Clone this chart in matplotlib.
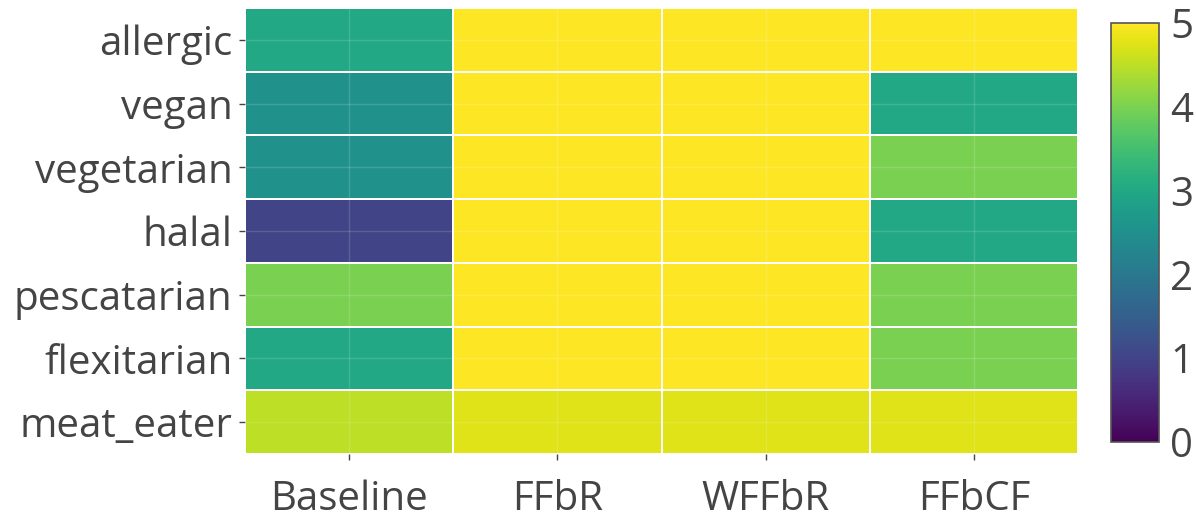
import numpy as np
import matplotlib.pyplot as plt

plt.rcParams['font.family'] = ['Open Sans', 'DejaVu Sans']

diets = ["allergic", "vegan", "vegetarian", "halal", "pescatarian", "flexitarian", "meat_eater"]
methods = ["Baseline", "FFbR", "WFFbR", "FFbCF"]

baseline = [3.0, 2.5, 2.5, 1.0, 4.0, 3.0, 4.5]
ffbr = [5.0, 5.0, 5.0, 5.0, 5.0, 5.0, 4.75]
wffbr = [5.0, 5.0, 5.0, 5.0, 5.0, 5.0, 4.75]
ffbcf = [5.0, 3.0, 4.0, 3.0, 4.0, 4.0, 4.75]

z = np.array([baseline, ffbr, wffbr, ffbcf]).T

txt = "#444444"
fs = 29

fig = plt.figure(figsize=(11.96, 5.21), dpi=100)
ax = fig.add_axes([245 / 1196, 1 - 454 / 521, (1078 - 245) / 1196, (454 - 8) / 521])

mesh = ax.pcolormesh(np.arange(len(methods) + 1) - 0.5,
                     np.arange(len(diets) + 1) - 0.5,
                     z, cmap="viridis", vmin=0, vmax=5,
                     edgecolors="white", linewidth=1.2)

# faint grid through the cell centres
for i in range(len(methods)):
    ax.axvline(i, color="white", alpha=0.15, lw=1, zorder=3)
for j in range(len(diets)):
    ax.axhline(j, color="white", alpha=0.15, lw=1, zorder=3)

ax.set_xlim(-0.5, len(methods) - 0.5)
ax.set_ylim(len(diets) - 0.5, -0.5)
ax.set_xticks(range(len(methods)))
ax.set_xticklabels(methods)
ax.set_yticks(range(len(diets)))
ax.set_yticklabels(diets)
ax.tick_params(axis="both", labelsize=fs, labelcolor=txt, color=txt,
               length=4.5, width=1)
ax.tick_params(axis="y", pad=4.5)
ax.tick_params(axis="x", pad=14)
for s in ax.spines.values():
    s.set_visible(False)

cax = fig.add_axes([1111 / 1196, 1 - 442 / 521, (1159 - 1111) / 1196, (442 - 23) / 521])
cb = fig.colorbar(mesh, cax=cax)
cb.set_ticks([0, 1, 2, 3, 4, 5])
cb.ax.tick_params(labelsize=fs, labelcolor=txt, length=0, pad=8)
cb.outline.set_edgecolor("#555555")
cb.outline.set_linewidth(1.2)

fig.savefig("out.png", dpi=100)
